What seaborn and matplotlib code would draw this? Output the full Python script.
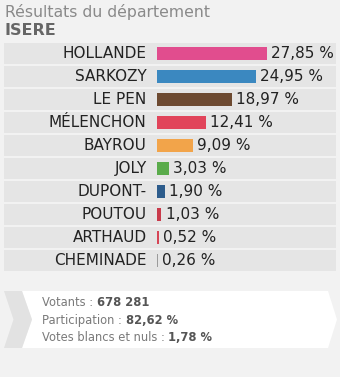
import matplotlib
matplotlib.use("Agg")
import matplotlib.pyplot as plt
import seaborn as sns
from matplotlib.patches import Polygon

candidates = ["HOLLANDE", "SARKOZY", "LE PEN", "MÉLENCHON", "BAYROU", "JOLY",
              "DUPONT-", "POUTOU", "ARTHAUD", "CHEMINADE"]
scores = [27.85, 24.95, 18.97, 12.41, 9.09, 3.03, 1.90, 1.03, 0.52, 0.26]
score_labels = ["27,85 %", "24,95 %", "18,97 %", "12,41 %", "9,09 %", "3,03 %",
                "1,90 %", "1,03 %", "0,52 %", "0,26 %"]
bar_colors = ["#e14d8e", "#3b88c0", "#6d4a31", "#e1445a", "#f2a44a", "#5aab4b",
              "#2d5c8c", "#c93a4b", "#d64556", "#9a9a9a"]
title = "Résultats du département"
dept = "ISERE"
stats_labels = ["Votants : ", "Participation : ", "Votes blancs et nuls : "]
stats_values = ["678 281", "82,62 %", "1,78 %"]

sns.set_theme(style="white")
plt.rcParams["font.family"] = ["DejaVu Sans"]

W, H = 340, 377
fig = plt.figure(figsize=(W / 100, H / 100), dpi=100, facecolor="#f2f2f2")

# decoration axes in pixel coordinates
deco = fig.add_axes([0, 0, 1, 1], zorder=0)
deco.set_xlim(0, W)
deco.set_ylim(H, 0)
deco.set_axis_off()

# main bar axes
ax = fig.add_axes([0, 0, 1, 1], zorder=1)
ax.patch.set_alpha(0)
px_per_pct = 3.95
x0_px = 157
row_px = 23
first_row_px = 53.5

for i in range(len(candidates)):
    ax.axhspan(i - 0.44, i + 0.44, xmin=4 / W, xmax=336 / W,
               color="#e5e5e5", lw=0, zorder=0.5)

sns.barplot(x=scores, y=candidates, hue=candidates, palette=bar_colors,
            orient="h", width=0.57, saturation=1, legend=False, ax=ax, zorder=2,
            linewidth=0, edgecolor="none")

ax.set_xlim(-x0_px / px_per_pct, (W - x0_px) / px_per_pct)
ax.set_ylim((H - first_row_px) / row_px, -first_row_px / row_px)
ax.set_axis_off()

for i, (name, v, lab) in enumerate(zip(candidates, scores, score_labels)):
    ax.annotate(name, xy=(0, i), xytext=(-7.4, 0), textcoords="offset points",
                ha="right", va="center", fontsize=11, color="#222222")
    ax.annotate(lab, xy=(v, i), xytext=(3.2, 0), textcoords="offset points",
                ha="left", va="center", fontsize=11, color="#222222")

deco.text(5, 12, title, ha="left", va="center", fontsize=11.3, color="#8a8a8a")
deco.text(5, 30.5, dept, ha="left", va="center", fontsize=11.5,
          fontweight="bold", color="#666666")

# bottom info box
white = Polygon([(22, 291), (328, 291), (337, 319.5), (328, 348), (22, 348), (32, 319.5)],
                closed=True, facecolor="white", edgecolor="none")
chev = Polygon([(4, 291), (22, 291), (32, 319.5), (22, 348), (4, 348), (13.5, 319.5)],
               closed=True, facecolor="#e2e2e2", edgecolor="none")
deco.add_patch(white)
deco.add_patch(chev)

for j, (lab, val) in enumerate(zip(stats_labels, stats_values)):
    t = deco.text(42, 302.5 + 17.7 * j, lab, ha="left", va="center",
                  fontsize=8.3, color="#7a7a7a")
    deco.annotate(val, xy=(1, 0), xycoords=t, ha="left", va="bottom",
                  fontsize=8.3, fontweight="bold", color="#555555")

fig.savefig("out.png", dpi=100, facecolor=fig.get_facecolor())
